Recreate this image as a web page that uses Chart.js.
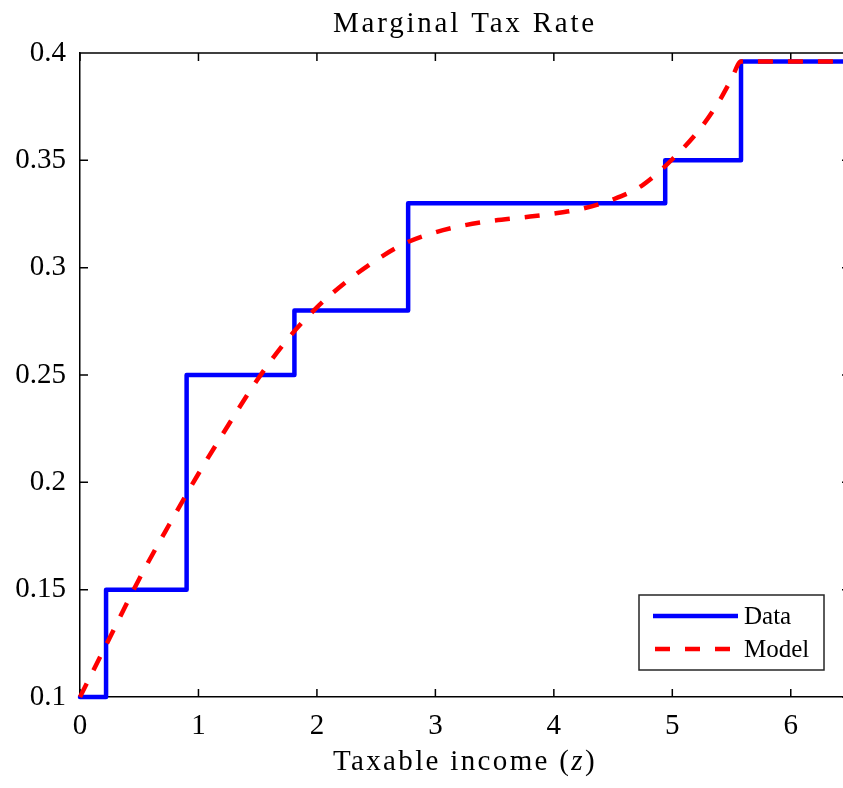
<!DOCTYPE html>
<html><head><meta charset="utf-8">
<script src="https://cdn.jsdelivr.net/npm/chart.js@4.4.1/dist/chart.umd.min.js"></script>
<style>
html,body{margin:0;padding:0;overflow:hidden;background:#fff;width:843px;height:788px}
#wrap{position:absolute;left:0;top:0;width:852px;height:788px}
</style>
</head><body><div id="wrap"><canvas id="c" width="852" height="788"></canvas></div>
<script>
// ---- data ----
const dataIncome = [0, 0.22, 0.90, 1.81, 2.77, 4.94, 5.58, 6.5];
const dataRate   = [0.10, 0.15, 0.25, 0.28, 0.33, 0.35, 0.396, 0.396];
const modelIncome = [0, 0.25, 0.5, 0.75, 1.0, 1.25, 1.5, 1.75, 2.0, 2.25, 2.5, 2.75, 3.0, 3.25, 3.5, 3.75, 4.0, 4.25, 4.5, 4.75, 5.0, 5.25, 5.4, 5.5, 5.58, 6.5];
const modelRate   = [0.100, 0.1275, 0.155, 0.180, 0.204, 0.2265, 0.248, 0.2665, 0.2815, 0.2935, 0.3035, 0.3115, 0.3165, 0.3198, 0.3220, 0.3235, 0.3252, 0.3276, 0.3318, 0.3385, 0.3505, 0.3658, 0.378, 0.388, 0.396, 0.396];
const xTicks = [0, 1, 2, 3, 4, 5, 6];
const yTicks = [0.1, 0.15, 0.2, 0.25, 0.3, 0.35, 0.4];
const seriesNames = ['Data', 'Model'];
const titleText = 'Marginal Tax Rate';
const xLabelParts = [['Taxable income (', false], ['z', true], [')', false]];

const SERIF = '"Liberation Serif", "DejaVu Serif", serif';
const LABEL_SIZE = 29;
const LABEL_W = 264;

const framePlugin = {
  id: 'frame',
  beforeDatasetsDraw(chart) {
    const {ctx, chartArea: a, scales: {x, y}} = chart;
    ctx.save();
    ctx.strokeStyle = '#000';
    ctx.lineWidth = 1.5;
    ctx.beginPath();
    ctx.moveTo(a.left, a.top); ctx.lineTo(a.right, a.top);
    ctx.moveTo(a.right, a.top); ctx.lineTo(a.right, a.bottom);
    const tl = 8;
    xTicks.forEach(v => {
      const px = x.getPixelForValue(v);
      ctx.moveTo(px, a.bottom); ctx.lineTo(px, a.bottom - tl);
      ctx.moveTo(px, a.top); ctx.lineTo(px, a.top + tl);
    });
    yTicks.forEach(v => {
      const py = y.getPixelForValue(v);
      ctx.moveTo(a.left, py); ctx.lineTo(a.left + tl, py);
      ctx.moveTo(a.right, py); ctx.lineTo(a.right - tl, py);
    });
    ctx.stroke();
    ctx.restore();
  },
  afterDraw(chart) {
    const {ctx, chartArea: a} = chart;
    const cx = (a.left + a.right) / 2;
    ctx.save();
    ctx.fillStyle = '#000';
    ctx.textBaseline = 'alphabetic';
    ctx.textAlign = 'left';
    // title
    ctx.letterSpacing = '0px';
    ctx.font = LABEL_SIZE + 'px ' + SERIF;
    let w = ctx.measureText(titleText).width;
    let ls = Math.max(0, (LABEL_W - w) / (titleText.length));
    ctx.letterSpacing = ls + 'px';
    ctx.fillText(titleText, cx - LABEL_W / 2, 32);
    // x label
    ctx.letterSpacing = '0px';
    let total = 0, n = 0;
    xLabelParts.forEach(([t, it]) => {
      ctx.font = (it ? 'italic ' : '') + LABEL_SIZE + 'px ' + SERIF;
      total += ctx.measureText(t).width; n += t.length;
    });
    ls = Math.max(0, (LABEL_W - total) / n);
    ctx.letterSpacing = ls + 'px';
    let px = cx - LABEL_W / 2;
    xLabelParts.forEach(([t, it]) => {
      ctx.font = (it ? 'italic ' : '') + LABEL_SIZE + 'px ' + SERIF;
      ctx.fillText(t, px, 770);
      px += ctx.measureText(t).width;
    });
    ctx.letterSpacing = '0px';
    // legend
    const bx = 639, by = 595, bw = 185, bh = 75;
    ctx.fillStyle = '#fff';
    ctx.fillRect(bx, by, bw, bh);
    ctx.strokeStyle = '#262626';
    ctx.lineWidth = 1.5;
    ctx.strokeRect(bx, by, bw, bh);
    const rows = [616, 649];
    chart.data.datasets.forEach((ds, i) => {
      const yy = rows[i];
      ctx.save();
      ctx.strokeStyle = ds.borderColor;
      ctx.lineWidth = ds.borderWidth;
      ctx.setLineDash(ds.borderDash || []);
      ctx.lineCap = 'butt';
      ctx.beginPath();
      if (ds.borderDash) {
        ctx.moveTo(655, yy); ctx.lineTo(736, yy);
      } else {
        ctx.moveTo(653, yy); ctx.lineTo(738, yy);
      }
      ctx.stroke();
      ctx.restore();
      ctx.fillStyle = '#000';
      ctx.font = '25px ' + SERIF;
      ctx.textAlign = 'left';
      ctx.fillText(ds.label, 744, yy + 7.5);
    });
    ctx.restore();
  }
};

const toPts = (xs, ys) => xs.map((v, i) => ({x: v, y: ys[i]}));

new Chart(document.getElementById('c'), {
  type: 'line',
  data: {
    datasets: [
      {
        label: seriesNames[0],
        data: toPts(dataIncome, dataRate),
        borderColor: '#0000ff',
        borderWidth: 4.5,
        stepped: true,
        pointRadius: 0,
        fill: false,
        clip: false,
        borderJoinStyle: 'round',
        borderCapStyle: 'round',
        order: 2
      },
      {
        label: seriesNames[1],
        data: toPts(modelIncome, modelRate),
        borderColor: '#ff0000',
        borderWidth: 4.5,
        borderDash: [15, 15],
        cubicInterpolationMode: 'monotone',
        pointRadius: 0,
        fill: false,
        clip: false,
        order: 1
      }
    ]
  },
  plugins: [framePlugin],
  options: {
    responsive: false,
    devicePixelRatio: 1,
    animation: false,
    layout: {padding: {top: 53, right: 2, left: 0, bottom: 0}},
    plugins: {legend: {display: false}, title: {display: false}, tooltip: {enabled: false}},
    scales: {
      x: {
        type: 'linear', min: 0, max: 6.5,
        afterBuildTicks: s => { s.ticks = xTicks.map(v => ({value: v})); },
        afterFit: s => { s.height = 91; },
        grid: {display: false, drawTicks: false},
        border: {display: true, color: '#000', width: 1.5},
        ticks: {font: {family: SERIF, size: 29}, color: '#000', padding: 12, maxRotation: 0,
                callback: v => String(v)}
      },
      y: {
        type: 'linear', min: 0.1, max: 0.4,
        afterBuildTicks: s => { s.ticks = yTicks.map(v => ({value: v})); },
        afterFit: s => { s.width = 80; },
        grid: {display: false, drawTicks: false},
        border: {display: true, color: '#000', width: 1.5},
        ticks: {font: {family: SERIF, size: 29}, color: '#000', padding: 14,
                callback: v => String(v)}
      }
    }
  }
});
</script>
</body></html>
